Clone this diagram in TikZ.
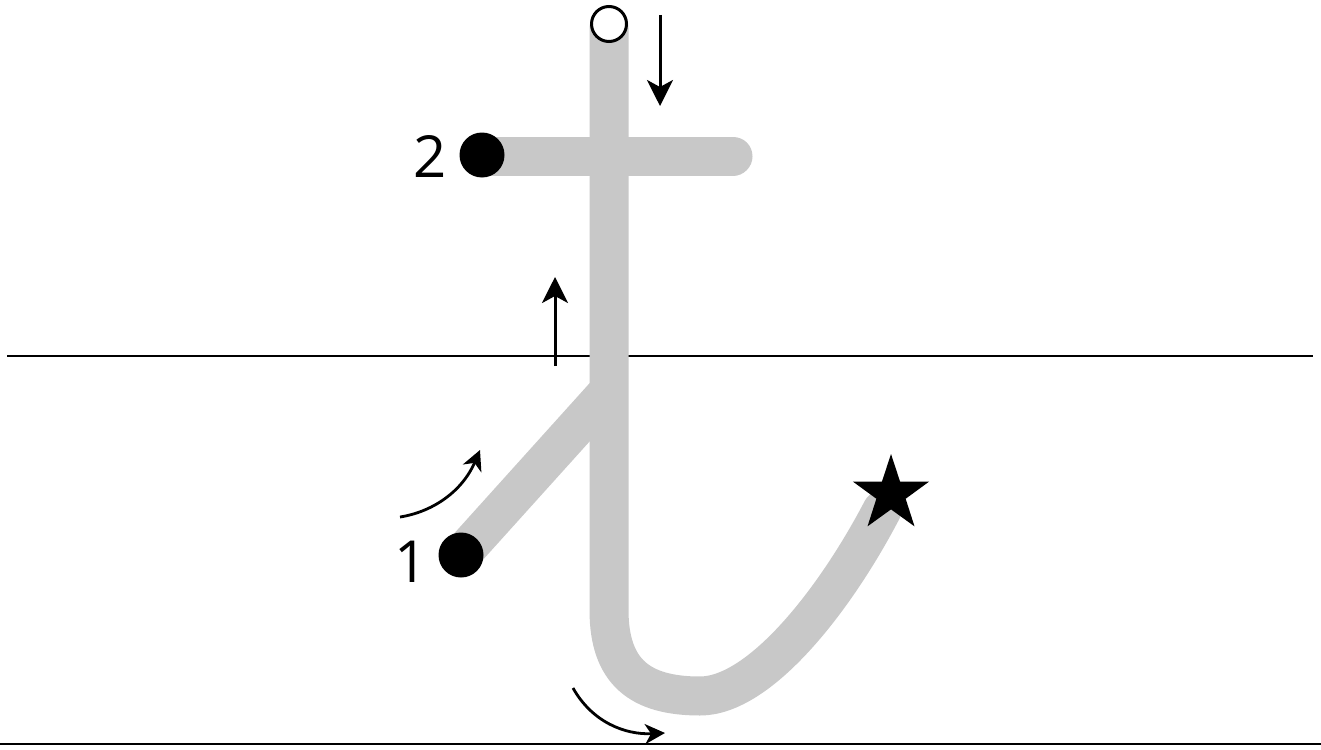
\documentclass[tikz,border=0pt]{standalone}
\usepackage{fontspec}
\setmainfont{Open Sans}
\usetikzlibrary{arrows.meta,shapes.geometric}
\definecolor{strokegray}{RGB}{200,200,200}
\tikzset{
  guide/.style={draw=black,line width=2.4pt},
  penstroke/.style={draw=strokegray,line width=39pt},
  dirarrow/.style={draw=black,line width=3pt,-{Stealth[length=26pt,width=26pt,inset=7pt]}},
  bentarrow/.style={draw=black,line width=2.8pt,-{Stealth[length=20pt,width=20pt,inset=6pt]}},
  startdot/.style={circle,fill=black,inner sep=0pt,minimum size=45pt},
  numlabel/.style={font=\fontsize{58}{60}\selectfont,inner sep=0pt},
}
\begin{document}
\begin{tikzpicture}[x=1pt,y=-1pt]
\useasboundingbox (0,0) rectangle (1321,749);
\fill[white] (0,0) rectangle (1321,749);
% guide lines
\coordinate (gl1) at (7,356);
\coordinate (gr1) at (1313,356);
\coordinate (gl2) at (0,744);
\coordinate (gr2) at (1321,744);
\draw[guide] (gl1) -- (gr1);
\draw[guide] (gl2) -- (gr2);
% stroke coordinates
\coordinate (top) at (609,28);
\coordinate (join) at (607,393);
\coordinate (bend) at (609,610);
\coordinate (bottom) at (700,696);
\coordinate (tail) at (882,510);
\coordinate (barL) at (482,156);
\coordinate (barR) at (733,156);
% gray pen strokes
\draw[penstroke,line cap=round,line join=round] (top) -- (bend) .. controls (609,672) and (640,696) .. (bottom) .. controls (760,696) and (835,600) .. (tail);
\draw[penstroke,line cap=round] (461,555) -- (join);
\draw[penstroke,line cap=round] (barL) -- (barR);
% start dots
\node[startdot] (d1) at (461,555) {};
\node[startdot] (d2) at (482,155) {};
% open circle at top
\node[circle,draw=black,fill=white,line width=3pt,inner sep=0pt,minimum size=35pt] (oc) at (609,24) {};
% star at end
\node[star,star points=5,star point ratio=2.6,fill=black,inner sep=0pt,minimum size=80pt] (st) at (891,494) {};
% labels
\node[numlabel] (l1) at (411,562) {1};
\node[numlabel] (l2) at (430,156) {2};
% direction arrows
\coordinate (a1s) at (660,15);
\coordinate (a1e) at (660,106);
\draw[dirarrow] (a1s) -- (a1e);
\coordinate (a2s) at (555,366);
\coordinate (a2e) at (555,277);
\draw[dirarrow] (a2s) -- (a2e);
\coordinate (a3s) at (400,517);
\coordinate (a3e) at (480,450);
\draw[bentarrow] (a3s) .. controls (432,512) and (462,492) .. (a3e);
\coordinate (a4s) at (573,688);
\coordinate (a4e) at (665,733);
\draw[bentarrow] (a4s) .. controls (592,722) and (625,735) .. (a4e);
\end{tikzpicture}
\end{document}
